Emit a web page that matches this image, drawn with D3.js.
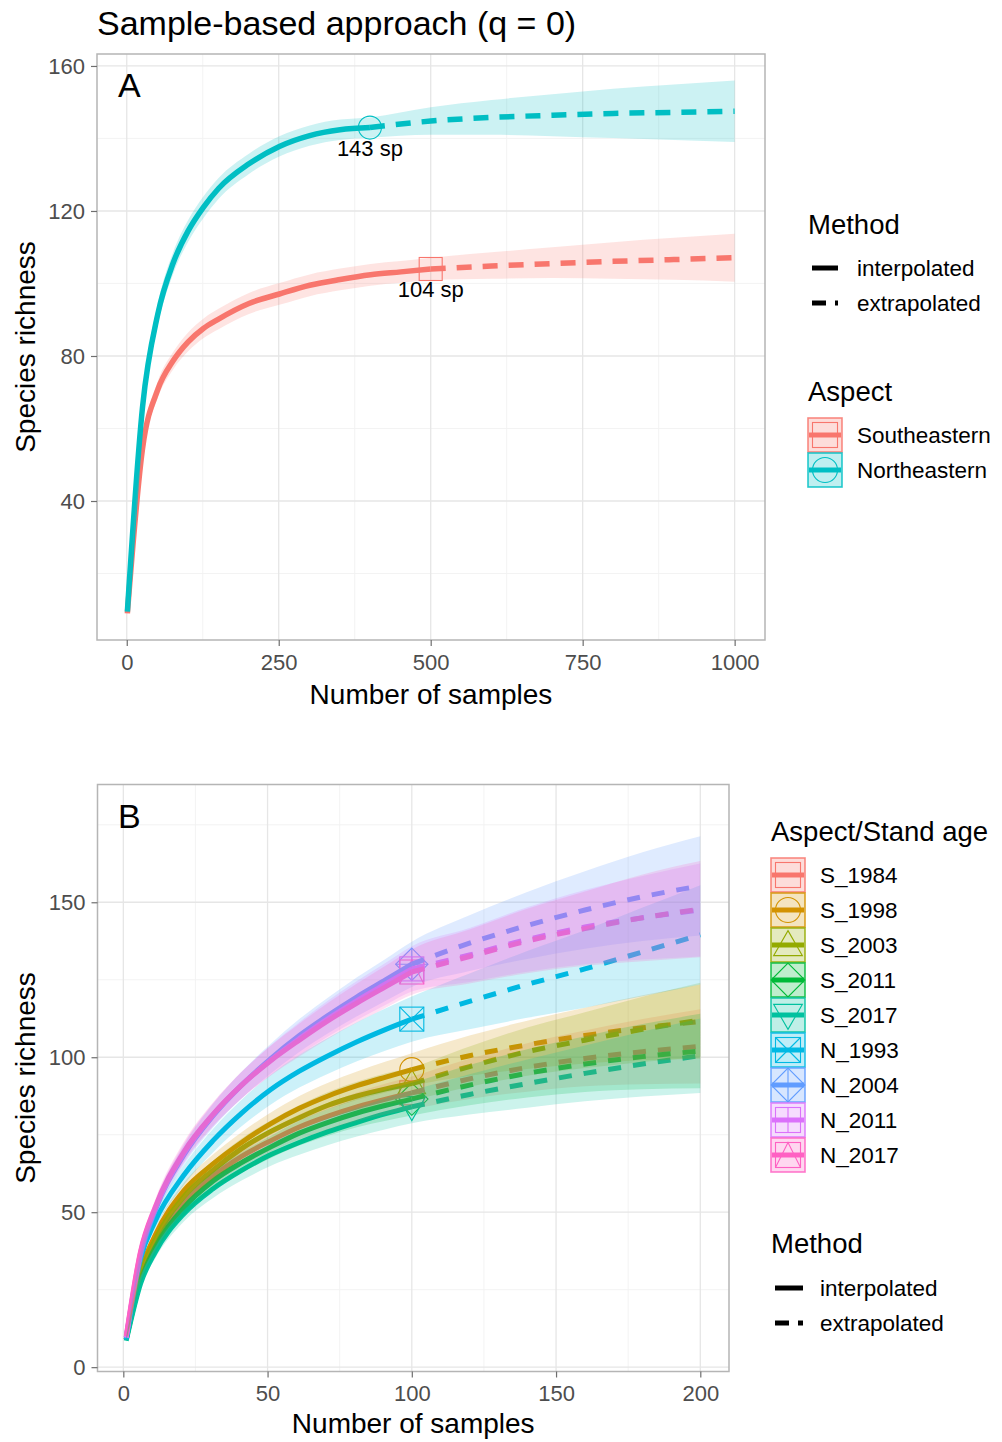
<!DOCTYPE html>
<html>
<head>
<meta charset="utf-8">
<script src="https://cdn.jsdelivr.net/npm/d3@7"></script>
<style>
  body { margin: 0; background: #fff; }
  text { font-family: "Liberation Sans", Arial, sans-serif; }
</style>
</head>
<body>
<svg id="fig" width="1002" height="1442"></svg>
<script>
// ---------- Panel A: richness by aspect ----------
const aspectNames = ["Southeastern", "Northeastern"];
const aspectColors = ["#F8766D", "#00BFC4"];
const aspectShapes = ["square", "circle"];

const seSamples  = [1, 26, 51, 76, 101, 126, 151, 201, 251, 301, 351, 401, 451, 500, 600, 700, 800, 900, 1000];
const seRichness = [9, 54.5, 70.7, 78.6, 83.9, 87.6, 90.2, 94.5, 97.1, 99.5, 101.1, 102.4, 103.2, 104, 104.8, 105.5, 106.1, 106.6, 107.1];
const seLower    = [8.5, 52.5, 68.4, 76.2, 81.3, 84.9, 87.4, 91.6, 94.1, 96.5, 98.1, 99.4, 100.2, 100.9, 101.3, 101.5, 101.3, 101, 100.5];
const seUpper    = [9.5, 56.5, 73, 81, 86.5, 90.3, 93, 97.4, 100.1, 102.5, 104.1, 105.4, 106.2, 107.1, 108.6, 110, 111.4, 112.6, 113.7];
const seRefIndex = 13;

const neSamples  = [1, 26, 51, 76, 101, 126, 151, 201, 251, 301, 351, 400, 500, 600, 700, 800, 900, 1000];
const neRichness = [9.5, 66, 91.5, 105.5, 114.5, 121, 126.2, 133, 137.8, 140.8, 142.4, 143, 144.8, 145.8, 146.4, 146.9, 147.2, 147.5];
const neLower    = [9, 63.5, 88.5, 102.5, 111.5, 118, 123.3, 130.2, 135, 138, 139.6, 140.2, 141, 141, 140.6, 140.1, 139.6, 139];
const neUpper    = [10, 68.5, 94.5, 108.5, 117.5, 124, 129.1, 135.8, 140.6, 143.6, 145.2, 145.8, 148.6, 150.6, 152.2, 153.7, 154.9, 156];
const neRefIndex = 11;

const xTicksA = [0, 250, 500, 750, 1000];
const xMinorA = [125, 375, 625, 875];
const yTicksA = [40, 80, 120, 160];
const yMinorA = [20, 60, 100, 140];

// ---------- Panel B: richness by aspect / stand age ----------
const standNames  = ["S_1984", "S_1998", "S_2003", "S_2011", "S_2017", "N_1993", "N_2004", "N_2011", "N_2017"];
const standColors = ["#F8766D", "#D39200", "#93AA00", "#00BA38", "#00C19F", "#00B9E3", "#619CFF", "#DB72FB", "#FF61C3"];
const standShapes = ["square", "circle", "triangle", "diamond", "triangleDown", "squareX", "diamondPlus", "squarePlus", "squareTriangle"];
const standSamples = [1, 6, 11, 21, 31, 41, 51, 61, 71, 81, 91, 100, 120, 140, 160, 180, 200];
const standRefIndex = 11;

const standRichness = [
  [9, 29, 39.5, 53, 61.5, 68, 73, 77.5, 81, 84, 86.5, 88.5, 93, 96.7, 99.6, 101.8, 103.5],
  [9.5, 31, 42.5, 57, 65.5, 72.5, 78.5, 83.5, 87.5, 90.8, 93.6, 96, 100.5, 104, 107, 109.5, 111.5],
  [9, 30, 41, 55, 63.5, 70.5, 76, 80.5, 84.5, 87.5, 89.8, 91.5, 97, 101.8, 105.5, 109, 112],
  [9, 28, 38.5, 51.5, 60, 66, 71, 75.5, 79, 82, 84.5, 86.5, 91, 94.8, 97.8, 100.2, 102],
  [8.5, 27, 37, 49.5, 57.5, 63.5, 68.5, 72.5, 76, 79, 81.8, 84, 88, 91.5, 94.8, 97.8, 100.5],
  [9, 35, 47, 62, 73, 82, 89.5, 95.5, 100.5, 105, 109, 112.3, 118, 123.5, 128.5, 134, 139.5],
  [9.5, 36, 50.5, 68.5, 81, 91, 99.5, 107, 113.5, 119.5, 125, 130, 136.8, 142.5, 147.5, 151.8, 155.3],
  [9.5, 37, 51, 69, 81.3, 91, 99, 106, 112.5, 118.3, 123.7, 128.5, 133, 138, 142, 145, 147.5],
  [10, 37.5, 51.5, 69.5, 81.5, 91, 98.8, 105.5, 111.8, 117.5, 122.8, 127.5, 132.5, 137.5, 141.5, 145, 147.8]
];
const standLower = [
  [8.5, 27.5, 37.5, 50.5, 58.5, 64.7, 69.4, 73.5, 76.7, 79.4, 81.5, 83.2, 86.5, 88.9, 90.6, 91.3, 91.5],
  [9, 29.5, 40.5, 54.5, 62.5, 69.2, 74.9, 79.5, 83.2, 86.2, 88.6, 90.7, 94, 96.2, 98, 99, 99.5],
  [8.5, 28.5, 39, 52.5, 60.5, 67.2, 72.4, 76.5, 80.2, 82.9, 84.8, 86.2, 90.5, 94, 96.5, 98.5, 100],
  [8.5, 26.5, 36.5, 49, 57, 62.7, 67.4, 71.5, 74.7, 77.4, 79.5, 81.2, 84.5, 87, 88.8, 89.7, 90],
  [8, 25.5, 35, 47, 54.5, 60.2, 64.9, 68.5, 71.7, 74.4, 76.8, 78.7, 81.5, 83.7, 85.8, 87.3, 88.5],
  [8.5, 33, 44.5, 58.8, 69.2, 77.7, 84.7, 90.2, 94.7, 98.7, 102.2, 105, 109, 112.7, 116, 119.7, 123.5],
  [9, 34, 48, 65.3, 77.2, 86.7, 94.7, 101.7, 107.7, 113.2, 118.2, 122.7, 127.8, 131.7, 135, 137.5, 139.3],
  [9, 35, 48.5, 65.8, 77.5, 86.7, 94.2, 100.7, 106.7, 112, 116.9, 121.2, 124.3, 127.6, 130, 131.5, 132.5],
  [9.5, 35.5, 49, 66.3, 77.7, 86.7, 94, 100.2, 106, 111.2, 116, 120.2, 123.8, 127.1, 129.5, 131, 132.3]
];
const standUpper = [
  [9.5, 30.5, 41.5, 55.5, 64.5, 71.3, 76.6, 81.5, 85.3, 88.6, 91.5, 93.8, 99.5, 104.5, 108.6, 112.3, 115.5],
  [10, 32.5, 44.5, 59.5, 68.5, 75.8, 82.1, 87.5, 91.8, 95.4, 98.6, 101.3, 107, 111.8, 116, 120, 123.5],
  [9.5, 31.5, 43, 57.5, 66.5, 73.8, 79.6, 84.5, 88.8, 92.1, 94.8, 96.8, 103.5, 109.6, 114.5, 119.5, 124],
  [9.5, 29.5, 40.5, 54, 63, 69.3, 74.6, 79.5, 83.3, 86.6, 89.5, 91.8, 97.5, 102.6, 106.8, 110.7, 114],
  [9, 28.5, 39, 52, 60.5, 66.8, 72.1, 76.5, 80.3, 83.6, 86.8, 89.3, 94.5, 99.3, 103.8, 108.3, 112.5],
  [9.5, 37, 49.5, 65.2, 76.8, 86.3, 94.3, 100.8, 106.3, 111.3, 115.8, 119.6, 127, 134.3, 141, 148.3, 155.5],
  [10, 38, 53, 71.7, 84.8, 95.3, 104.3, 112.3, 119.3, 125.8, 131.8, 137.3, 145.8, 153.3, 160, 166.1, 171.3],
  [10, 39, 53.5, 72.2, 85.1, 95.3, 103.8, 111.3, 118.3, 124.6, 130.5, 135.8, 141.7, 148.4, 154, 158.5, 162.5],
  [10.5, 39.5, 54, 72.7, 85.3, 95.3, 103.6, 110.8, 117.6, 123.8, 129.6, 134.8, 141.2, 147.9, 153.5, 159, 163.3]
];

const xTicksB = [0, 50, 100, 150, 200];
const xMinorB = [25, 75, 125, 175];
const yTicksB = [0, 50, 100, 150];
const yMinorB = [25, 75, 125, 175];

const methodLabels = ["interpolated", "extrapolated"];

// ---------- drawing ----------
const svg = d3.select("#fig");
svg.append("rect").attr("width", 1002).attr("height", 1442).attr("fill", "#fff");

const gridMajor = "#E6E6E6", gridMinor = "#F2F2F2", borderCol = "#B5B5B5";
const tickText = "#4D4D4D";

function drawShape(g, kind, cx, cy, color, s) {
  const grp = g.append("g").attr("fill", "none").attr("stroke", color).attr("stroke-width", 1.1);
  const poly = pts => grp.append("path").attr("d", "M" + pts.map(p => p.join(",")).join("L") + "Z");
  const seg = (x1, y1, x2, y2) => grp.append("line").attr("x1", x1).attr("y1", y1).attr("x2", x2).attr("y2", y2);
  const sq = () => grp.append("rect").attr("x", cx - s).attr("y", cy - s).attr("width", 2 * s).attr("height", 2 * s);
  const d = s * 1.35, t = s * 1.15;
  switch (kind) {
    case "square": sq(); break;
    case "circle": grp.append("circle").attr("cx", cx).attr("cy", cy).attr("r", s); break;
    case "triangle": poly([[cx, cy - t], [cx + t, cy + s * 0.85], [cx - t, cy + s * 0.85]]); break;
    case "triangleDown": poly([[cx, cy + t], [cx + t, cy - s * 0.85], [cx - t, cy - s * 0.85]]); break;
    case "diamond": poly([[cx, cy - d], [cx + d, cy], [cx, cy + d], [cx - d, cy]]); break;
    case "squareX": sq(); seg(cx - s, cy - s, cx + s, cy + s); seg(cx - s, cy + s, cx + s, cy - s); break;
    case "diamondPlus":
      poly([[cx, cy - d], [cx + d, cy], [cx, cy + d], [cx - d, cy]]);
      seg(cx, cy - d, cx, cy + d); seg(cx - d, cy, cx + d, cy); break;
    case "squarePlus": sq(); seg(cx, cy - s, cx, cy + s); seg(cx - s, cy, cx + s, cy); break;
    case "squareTriangle": sq(); grp.append("path").attr("d", `M${cx - s},${cy + s}L${cx},${cy - s}L${cx + s},${cy + s}`); break;
  }
}

function drawPanel(cfg) {
  const { x, y, left, right, top, bottom, id } = cfg;
  const g = svg.append("g");
  // grid
  cfg.xMinor.forEach(v => g.append("line").attr("x1", x(v)).attr("x2", x(v)).attr("y1", top).attr("y2", bottom)
    .attr("stroke", gridMinor).attr("stroke-width", 0.9));
  cfg.yMinor.forEach(v => g.append("line").attr("y1", y(v)).attr("y2", y(v)).attr("x1", left).attr("x2", right)
    .attr("stroke", gridMinor).attr("stroke-width", 0.9));
  cfg.xTicks.forEach(v => g.append("line").attr("x1", x(v)).attr("x2", x(v)).attr("y1", top).attr("y2", bottom)
    .attr("stroke", gridMajor).attr("stroke-width", 1.3));
  cfg.yTicks.forEach(v => g.append("line").attr("y1", y(v)).attr("y2", y(v)).attr("x1", left).attr("x2", right)
    .attr("stroke", gridMajor).attr("stroke-width", 1.3));

  svg.append("clipPath").attr("id", id).append("rect")
    .attr("x", left).attr("y", top).attr("width", right - left).attr("height", bottom - top);
  const plot = g.append("g").attr("clip-path", `url(#${id})`);

  const line = d3.line().x(d => x(d[0])).y(d => y(d[1])).curve(d3.curveMonotoneX);
  const area = d3.area().x(d => x(d[0])).y0(d => y(d[1])).y1(d => y(d[2])).curve(d3.curveMonotoneX);

  // observed points (bottom layer)
  cfg.series.forEach(s => {
    drawShape(plot, s.shape, x(s.samples[s.ref]), y(s.richness[s.ref]), s.color, cfg.shapeSize);
  });
  // curves
  cfg.series.forEach(s => {
    const pts = s.samples.map((n, i) => [n, s.richness[i]]);
    plot.append("path").attr("d", line(pts.slice(0, s.ref + 1)))
      .attr("fill", "none").attr("stroke", s.color).attr("stroke-width", cfg.lineWidth)
      .attr("stroke-linejoin", "round");
    plot.append("path").attr("d", line(pts.slice(s.ref)))
      .attr("fill", "none").attr("stroke", s.color).attr("stroke-width", cfg.lineWidth)
      .attr("stroke-dasharray", cfg.dash);
  });
  // confidence bands on top
  cfg.series.forEach(s => {
    const pts = s.samples.map((n, i) => [n, s.lower[i], s.upper[i]]);
    plot.append("path").attr("d", area(pts)).attr("fill", s.color).attr("fill-opacity", 0.2);
  });

  // border
  g.append("rect").attr("x", left).attr("y", top).attr("width", right - left).attr("height", bottom - top)
    .attr("fill", "none").attr("stroke", borderCol).attr("stroke-width", 1.5);

  // axes
  const ax = g.append("g").attr("transform", `translate(0,${bottom})`)
    .call(d3.axisBottom(x).tickValues(cfg.xTicks).tickSize(6).tickPadding(8).tickFormat(d3.format("d")));
  const ay = g.append("g").attr("transform", `translate(${left},0)`)
    .call(d3.axisLeft(y).tickValues(cfg.yTicks).tickSize(6).tickPadding(6).tickFormat(d3.format("d")));
  [ax, ay].forEach(a => {
    a.select(".domain").remove();
    a.selectAll(".tick line").attr("stroke", "#6E6E6E").attr("stroke-width", 1.2);
    a.selectAll(".tick text").attr("fill", tickText).attr("font-size", 22)
      .attr("font-family", '"Liberation Sans", Arial, sans-serif');
  });

  // axis titles
  g.append("text").attr("x", (left + right) / 2).attr("y", cfg.xTitleY).attr("text-anchor", "middle")
    .attr("font-size", 28).text("Number of samples");
  g.append("text").attr("transform", `translate(35,${(top + bottom) / 2}) rotate(-90)`)
    .attr("text-anchor", "middle").attr("font-size", 28).text("Species richness");

  // panel tag
  g.append("text").attr("x", 118).attr("y", top + 43).attr("font-size", 34).text(cfg.tag);
  return plot;
}

function legendBox(g, x0, yc, color, shape) {
  g.append("rect").attr("x", x0).attr("y", yc - 17).attr("width", 34).attr("height", 34)
    .attr("fill", color).attr("fill-opacity", 0.25).attr("stroke", color).attr("stroke-opacity", 0.85).attr("stroke-width", 1.6);
  g.append("line").attr("x1", x0 + 1).attr("x2", x0 + 33).attr("y1", yc).attr("y2", yc)
    .attr("stroke", color).attr("stroke-width", 5);
  drawShape(g, shape, x0 + 17, yc, color, 12.5);
}

function methodLegend(g, x0, titleY, firstY, keyX1, keyX2, labelX) {
  g.append("text").attr("x", x0).attr("y", titleY).attr("font-size", 27.5).text("Method");
  methodLabels.forEach((lab, i) => {
    const yc = firstY + 35 * i;
    g.append("line").attr("x1", keyX1).attr("x2", keyX2).attr("y1", yc).attr("y2", yc)
      .attr("stroke", "#000").attr("stroke-width", 5)
      .attr("stroke-dasharray", i === 1 ? "14,9" : null);
    g.append("text").attr("x", labelX).attr("y", yc + 8).attr("font-size", 22.5).text(lab);
  });
}

// title
svg.append("text").attr("x", 97).attr("y", 35).attr("font-size", 34).text("Sample-based approach (q = 0)");

// ---- Panel A ----
const xA = d3.scaleLinear().domain([-48.95, 1049.95]).range([97, 765]);
const yA = d3.scaleLinear().domain([1.66, 163.3]).range([640, 54]);
const seriesA = [
  { samples: seSamples, richness: seRichness, lower: seLower, upper: seUpper, ref: seRefIndex, color: aspectColors[0], shape: aspectShapes[0] },
  { samples: neSamples, richness: neRichness, lower: neLower, upper: neUpper, ref: neRefIndex, color: aspectColors[1], shape: aspectShapes[1] }
];
drawPanel({
  id: "clipA", x: xA, y: yA, left: 97, right: 765, top: 54, bottom: 640,
  xTicks: xTicksA, xMinor: xMinorA, yTicks: yTicksA, yMinor: yMinorA,
  series: seriesA, lineWidth: 5.5, dash: "15,11", shapeSize: 11.5, xTitleY: 704, tag: "A"
});
// observed richness labels
seriesA.forEach(s => {
  const v = s.richness[s.ref];
  svg.append("text").attr("x", xA(s.samples[s.ref])).attr("y", yA(v) + 28)
    .attr("text-anchor", "middle").attr("font-size", 22).text(`${v} sp`);
});

// legend A
const legA = svg.append("g");
methodLegend(legA, 808, 234, 268, 812, 838, 857);
legA.append("text").attr("x", 808).attr("y", 401).attr("font-size", 27.5).text("Aspect");
aspectNames.forEach((nm, i) => {
  const yc = 435 + 35 * i;
  legendBox(legA, 808, yc, aspectColors[i], aspectShapes[i]);
  legA.append("text").attr("x", 857).attr("y", yc + 8).attr("font-size", 22.5).text(nm);
});

// ---- Panel B ----
const xB = d3.scaleLinear().domain([-8.95, 209.95]).range([97.5, 729]);
const yB = d3.scaleLinear().domain([-1.4, 188]).range([1371.5, 784.5]);
const seriesB = standNames.map((nm, i) => ({
  samples: standSamples, richness: standRichness[i], lower: standLower[i], upper: standUpper[i],
  ref: standRefIndex, color: standColors[i], shape: standShapes[i]
}));
drawPanel({
  id: "clipB", x: xB, y: yB, left: 97.5, right: 729, top: 784.5, bottom: 1371.5,
  xTicks: xTicksB, xMinor: xMinorB, yTicks: yTicksB, yMinor: yMinorB,
  series: seriesB, lineWidth: 5, dash: "13,12", shapeSize: 12, xTitleY: 1433, tag: "B"
});

// legend B
const legB = svg.append("g");
legB.append("text").attr("x", 771).attr("y", 841).attr("font-size", 27.5).text("Aspect/Stand age");
standNames.forEach((nm, i) => {
  const yc = 875 + 35 * i;
  legendBox(legB, 771, yc, standColors[i], standShapes[i]);
  legB.append("text").attr("x", 820).attr("y", yc + 8).attr("font-size", 22.5).text(nm);
});
methodLegend(legB, 771, 1253, 1288, 775, 803, 820);
</script>
</body>
</html>
